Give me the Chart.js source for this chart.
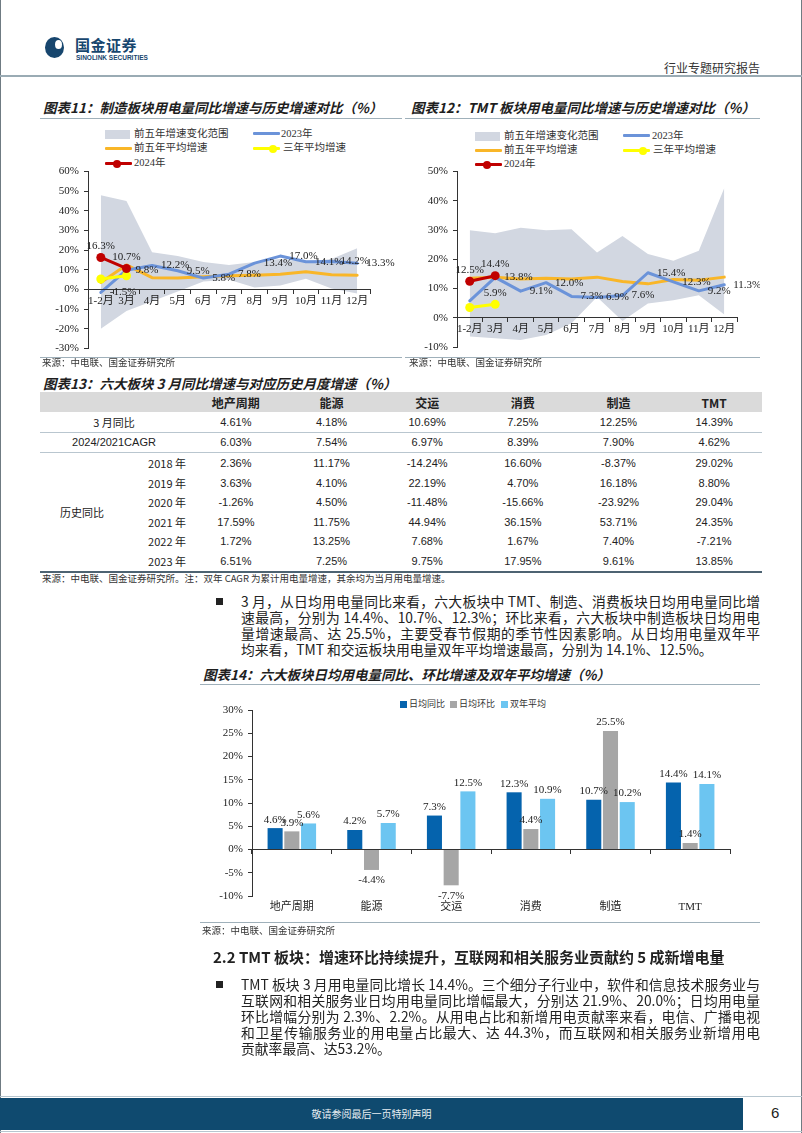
<!DOCTYPE html>
<html lang="zh-CN">
<head>
<meta charset="utf-8">
<title>行业专题研究报告</title>
<script src="https://cdn.jsdelivr.net/npm/chart.js@4.4.1/dist/chart.umd.min.js"></script>
<style>
  html, body { margin: 0; padding: 0; }
  body {
    width: 802px; height: 1133px; position: relative; overflow: hidden; background: #fff;
    font-family: "Noto Sans CJK SC", sans-serif; color: #222;
  }
  .a { position: absolute; white-space: nowrap; }
  .vline { position: absolute; top: 0; width: 1px; height: 1133px; background: #6f7b82; }
  .hrule { position: absolute; height: 1px; background: #9fb0ba; }
  .title { font-size: 13.5px; font-weight: bold; font-style: italic; line-height: 16px; color: #1e1e1e; }
  .src { font-size: 9.5px; line-height: 12px; color: #333; }
  .lg { font-family: "Liberation Serif", "Noto Sans CJK SC", serif; font-size: 10.5px; line-height: 12px; color: #333; }
  .lgline { position: absolute; height: 3px; border-radius: 1px; }
  .lgdot { position: absolute; width: 8px; height: 8px; border-radius: 50%; }
  .lgbox { position: absolute; width: 7px; height: 7px; }
  .txt { position: absolute; width: 519px; font-size: 13.8px; line-height: 16px; text-align: justify; text-align-last: justify; white-space: nowrap; }
  .txt.last { text-align-last: left; }
  .bullet { position: absolute; width: 7px; height: 7px; background: #222; }
  canvas { position: absolute; }
  table.t13 {
    position: absolute; left: 40px; top: 392px; width: 722px; border-collapse: collapse;
    table-layout: fixed; font-size: 11px; color: #222;
  }
  table.t13 td, table.t13 th { padding: 0; height: 19.6px; text-align: center; white-space: nowrap; }
  table.t13 th { background: #dadada; font-weight: bold; font-size: 12px; height: 20px; }
  table.t13 td.num { font-family: "Liberation Sans Narrow", "Liberation Sans", sans-serif; }
  table.t13 tr.sep td { border-bottom: 1px solid #b9c6cf; }
  table.t13 tr.end td { border-bottom: 2px solid #4d6372; }
</style>
</head>
<body>
<div class="vline" style="left:0"></div>
<div class="vline" style="left:801px"></div>

<!-- page header -->
<div class="a" style="left:45px;top:37px;width:19px;height:21px;border-radius:50%;background:#17466e"></div>
<div class="a" style="left:55px;top:40px;width:7px;height:9px;border-radius:50%;background:#fff"></div>
<div class="a" style="left:75px;top:36px;font-size:15px;font-weight:bold;color:#17466e;line-height:18px;letter-spacing:0.5px">国金证券</div>
<div class="a" style="left:76px;top:54px;font-size:6.5px;font-weight:bold;color:#17466e;line-height:8px;font-family:'Liberation Sans Narrow','Liberation Sans',sans-serif">SINOLINK SECURITIES</div>
<div class="a" style="left:664px;top:60px;font-size:12px;line-height:15px;color:#333">行业专题研究报告</div>
<div class="hrule" style="left:0;top:75px;width:802px;height:2px;background:#9aabb4"></div>

<!-- chart 11 / 12 titles -->
<div class="a title" style="left:43px;top:99px">图表11：制造板块用电量同比增速与历史增速对比（%）</div>
<div class="hrule" style="left:40px;top:118px;width:362px"></div>
<div class="a title" style="left:411px;top:99px">图表12：TMT 板块用电量同比增速与历史增速对比（%）</div>
<div class="hrule" style="left:405px;top:118px;width:355px"></div>

<!-- chart 11 legend -->
<div class="lgbox" style="left:105px;top:130px;width:25px;height:9px;background:#d2d7e1"></div>
<div class="a lg" style="left:134px;top:128px">前五年增速变化范围</div>
<div class="lgline" style="left:253px;top:132px;width:27px;background:#6b93d9"></div>
<div class="a lg" style="left:281px;top:128px">2023年</div>
<div class="lgline" style="left:105px;top:147px;width:27px;background:#f9b628"></div>
<div class="a lg" style="left:134px;top:142px">前五年平均增速</div>
<div class="lgline" style="left:253px;top:147px;width:27px;background:#ffff00"></div>
<div class="lgdot" style="left:269px;top:144.5px;background:#ffff00"></div>
<div class="a lg" style="left:283px;top:142px">三年平均增速</div>
<div class="lgline" style="left:105px;top:162px;width:27px;background:#c00000"></div>
<div class="lgdot" style="left:113px;top:159.5px;background:#c00000"></div>
<div class="a lg" style="left:134px;top:157px">2024年</div>

<!-- chart 12 legend -->
<div class="lgbox" style="left:475px;top:132px;width:25px;height:9px;background:#d2d7e1"></div>
<div class="a lg" style="left:504px;top:130px">前五年增速变化范围</div>
<div class="lgline" style="left:623px;top:134px;width:27px;background:#6b93d9"></div>
<div class="a lg" style="left:652px;top:130px">2023年</div>
<div class="lgline" style="left:475px;top:149px;width:27px;background:#f9b628"></div>
<div class="a lg" style="left:504px;top:144px">前五年平均增速</div>
<div class="lgline" style="left:623px;top:149px;width:27px;background:#ffff00"></div>
<div class="lgdot" style="left:639px;top:146.5px;background:#ffff00"></div>
<div class="a lg" style="left:653px;top:144px">三年平均增速</div>
<div class="lgline" style="left:475px;top:163px;width:27px;background:#c00000"></div>
<div class="lgdot" style="left:483px;top:160.5px;background:#c00000"></div>
<div class="a lg" style="left:504px;top:158px">2024年</div>

<canvas id="c11" width="360" height="200" style="left:40px;top:160px"></canvas>
<canvas id="c12" width="355" height="200" style="left:405px;top:160px"></canvas>

<div class="hrule" style="left:40px;top:357px;width:362px"></div>
<div class="hrule" style="left:405px;top:357px;width:355px"></div>
<div class="a src" style="left:42px;top:356px">来源：中电联、国金证券研究所</div>
<div class="a src" style="left:409px;top:356px">来源：中电联、国金证券研究所</div>

<!-- table 13 -->
<div class="a title" style="left:43px;top:375px">图表13：六大板块 3 月同比增速与对应历史月度增速（%）</div>
<table class="t13" id="t13"></table>
<div class="a src" style="left:42px;top:572px">来源：中电联、国金证券研究所。注：双年 CAGR 为累计用电量增速，其余均为当月用电量增速。</div>

<!-- paragraph 1 -->
<div class="bullet" style="left:216px;top:598px"></div>
<div class="txt" style="left:241px;top:593px">3 月，从日均用电量同比来看，六大板块中 TMT、制造、消费板块日均用电量同比增</div>
<div class="txt" style="left:241px;top:609px">速最高，分别为 14.4%、10.7%、12.3%；环比来看，六大板块中制造板块日均用电</div>
<div class="txt" style="left:241px;top:625px">量增速最高、达 25.5%，主要受春节假期的季节性因素影响。从日均用电量双年平</div>
<div class="txt last" style="left:241px;top:641px">均来看，TMT 和交运板块用电量双年平均增速最高，分别为 14.1%、12.5%。</div>

<!-- chart 14 -->
<div class="a title" style="left:203px;top:666px">图表14：六大板块日均用电量同比、环比增速及双年平均增速（%）</div>
<div class="hrule" style="left:200px;top:684px;width:560px"></div>
<div class="lgbox" style="left:400px;top:701px;background:#0563ad"></div>
<div class="a" style="left:409px;top:698px;font-size:9px;line-height:12px;color:#333">日均同比</div>
<div class="lgbox" style="left:450px;top:701px;background:#a6a6a6"></div>
<div class="a" style="left:459px;top:698px;font-size:9px;line-height:12px;color:#333">日均环比</div>
<div class="lgbox" style="left:501px;top:701px;background:#6cc5f1"></div>
<div class="a" style="left:510px;top:698px;font-size:9px;line-height:12px;color:#333">双年平均</div>
<canvas id="c14" width="560" height="230" style="left:200px;top:695px"></canvas>
<div class="hrule" style="left:200px;top:922px;width:560px"></div>
<div class="a src" style="left:202px;top:924px">来源：中电联、国金证券研究所</div>

<!-- section 2.2 -->
<div class="a" style="left:213px;top:948px;font-size:15px;font-weight:bold;line-height:18px">2.2 TMT 板块：增速环比持续提升，互联网和相关服务业贡献约 5 成新增电量</div>
<div class="bullet" style="left:216px;top:981px"></div>
<div class="txt" style="left:241px;top:976px">TMT 板块 3 月用电量同比增长 14.4%。三个细分子行业中，软件和信息技术服务业与</div>
<div class="txt" style="left:241px;top:992px">互联网和相关服务业日均用电量同比增幅最大，分别达 21.9%、20.0%；日均用电量</div>
<div class="txt" style="left:241px;top:1008px">环比增幅分别为 2.3%、2.2%。从用电占比和新增用电贡献率来看，电信、广播电视</div>
<div class="txt" style="left:241px;top:1024px">和卫星传输服务业的用电量占比最大、达 44.3%，而互联网和相关服务业新增用电</div>
<div class="txt last" style="left:241px;top:1040px">贡献率最高、达53.2%。</div>

<!-- footer -->
<div class="hrule" style="left:0;top:1096px;width:802px;background:#b7c6cf"></div>
<div class="a" style="left:0;top:1098px;width:743px;height:32px;background:#0f4a6f"></div>
<div class="a" style="left:0;top:1107px;width:743px;text-align:center;font-size:10px;line-height:13px;color:#e8eef2">敬请参阅最后一页特别声明</div>
<div class="a" style="left:771px;top:1104px;font-size:15px;line-height:18px;color:#222;font-family:'Liberation Sans Narrow','Liberation Sans',sans-serif">6</div>
<div class="hrule" style="left:0;top:1131px;width:802px;background:#b7c6cf"></div>

<script>
// ---- data ----
const months = ["1-2月", "3月", "4月", "5月", "6月", "7月", "8月", "9月", "10月", "11月", "12月"];

// 图表11 制造
const mfgRangeLow = [-20, -11, -6, -1, 4, 5, 1, 2, 5.5, 0.5, -2];
const mfgRangeHigh = [48, 45, 19, 17, 14, 12.5, 14, 15.5, 14, 15.5, 21];
const mfgAvg5 = [3.6, 12.5, 6, 5.8, 6.5, 7, 7.3, 7.8, 9, 7.5, 7.3];
const mfg2023 = [-1.5, 9.8, 12.2, 9.5, 5.8, 7.8, 13.4, 17.0, 14.1, 14.2, 13.3];
const mfgAvg3 = [5.3, 7.0];
const mfg2024 = [16.3, 10.7];

// 图表12 TMT
const tmtRangeLow = [-6.4, -7, -7.6, -5.9, -1.9, 7.1, -1.1, 4.9, 6, 7.7, 1.1];
const tmtRangeHigh = [29.9, 28.9, 30.8, 29.9, 30.3, 22.3, 28, 21.8, 19.5, 22.9, 44.4];
const tmtAvg5 = [13.5, 13.9, 13.3, 13.5, 13.3, 13.9, 12.4, 11.6, 13.1, 12.8, 13.9];
const tmt2023 = [5.8, 13.8, 9.1, 12.0, 7.3, 6.9, 7.6, 15.4, 12.3, 9.2, 11.3];
const tmtAvg3 = [3.5, 4.6];
const tmtAvg3Labels = [null, "5.9%"];
const tmt2024 = [12.5, 14.4];

// 图表13 table
const tableHeads = ["地产周期", "能源", "交运", "消费", "制造", "TMT"];
const rowMarch = ["4.61%", "4.18%", "10.69%", "7.25%", "12.25%", "14.39%"];
const rowCagr = ["6.03%", "7.54%", "6.97%", "8.39%", "7.90%", "4.62%"];
const histYears = ["2018 年", "2019 年", "2020 年", "2021 年", "2022 年", "2023 年"];
const histRows = [
  ["2.36%", "11.17%", "-14.24%", "16.60%", "-8.37%", "29.02%"],
  ["3.63%", "4.10%", "22.19%", "4.70%", "16.18%", "8.80%"],
  ["-1.26%", "4.50%", "-11.48%", "-15.66%", "-23.92%", "29.04%"],
  ["17.59%", "11.75%", "44.94%", "36.15%", "53.71%", "24.35%"],
  ["1.72%", "13.25%", "7.68%", "1.67%", "7.40%", "-7.21%"],
  ["6.51%", "7.25%", "9.75%", "17.95%", "9.61%", "13.85%"]
];

// 图表14
const sectors = ["地产周期", "能源", "交运", "消费", "制造", "TMT"];
const dailyYoY = [4.6, 4.2, 7.3, 12.3, 10.7, 14.4];
const dailyMoM = [3.9, -4.4, -7.7, 4.4, 25.5, 1.4];
const twoYearAvg = [5.6, 5.7, 12.5, 10.9, 10.2, 14.1];

// ---- colours ----
const BAND = "#d2d7e1";
const BLUE = "#6b93d9";
const ORANGE = "#f9b628";
const YELLOW = "#ffff00";
const RED = "#c00000";
const AXIS = "#333";
const SERIF = "'Liberation Serif', 'Noto Sans CJK SC', serif";

// build table 13
(function buildTable() {
  const t = document.getElementById("t13");
  let html = '<colgroup><col style="width:72px"><col style="width:76px">';
  tableHeads.forEach(() => { html += '<col style="width:95.67px">'; });
  html += "</colgroup>";
  html += '<tr><th colspan="2"></th>' + tableHeads.map(h => `<th>${h}</th>`).join("") + "</tr>";
  html += '<tr class="sep"><td colspan="2">3 月同比</td>' + rowMarch.map(v => `<td class="num">${v}</td>`).join("") + "</tr>";
  html += '<tr class="sep"><td colspan="2" class="num">2024/2021CAGR</td>' + rowCagr.map(v => `<td class="num">${v}</td>`).join("") + "</tr>";
  histRows.forEach((row, i) => {
    const cls = i === histRows.length - 1 ? ' class="end"' : "";
    let first = "";
    if (i === 0) first = `<td rowspan="${histRows.length}" style="border-bottom:2px solid #4d6372;padding-left:12px">历史同比</td>`;
    html += `<tr${cls}>${first}<td style="text-align:right;padding-right:2px">${histYears[i]}</td>` +
      row.map(v => `<td class="num">${v}</td>`).join("") + "</tr>";
  });
  t.innerHTML = html;
})();

Chart.defaults.font.family = SERIF;
Chart.defaults.font.size = 11;
Chart.defaults.color = "#222";

// value labels drawn next to points / bars
const valueLabels = {
  id: "valueLabels",
  afterDraw(chart) {
    const ctx = chart.ctx;
    ctx.save();
    ctx.font = "11px " + SERIF;
    ctx.fillStyle = "#222";
    chart.data.datasets.forEach((ds, i) => {
      if (!ds.labelPos) return;
      const meta = chart.getDatasetMeta(i);
      meta.data.forEach((el, j) => {
        if (ds.labelSkip && ds.labelSkip.includes(j)) return;
        const v = ds.data[j];
        const txt = (ds.labelText && ds.labelText[j]) || v.toFixed(1) + "%";
        if (ds.labelPos === "right") {
          ctx.textAlign = "left";
          ctx.textBaseline = "middle";
          ctx.fillText(txt, el.x + 9, el.y);
        } else if (ds.labelPos === "top") {
          ctx.textAlign = "center";
          ctx.textBaseline = "bottom";
          ctx.fillText(txt, el.x, el.y - 6);
        } else if (ds.labelPos === "bar") {
          ctx.textAlign = "center";
          if (v >= 0) {
            ctx.textBaseline = "bottom";
            ctx.fillText(txt, el.x, el.y - 3);
          } else {
            ctx.textBaseline = "top";
            ctx.fillText(txt, el.x, el.y + 5);
          }
        }
      });
    });
    ctx.restore();
  }
};

function lineDatasets(low, high, avg5, y2023, avg3, y2024, extra) {
  return [
    Object.assign({ label: "2024年", data: y2024, borderColor: RED, backgroundColor: RED, borderWidth: 3,
      pointRadius: 4.5, pointBorderWidth: 0, order: 1, labelPos: "top" }, extra.red || {}),
    Object.assign({ label: "三年平均增速", data: avg3, borderColor: YELLOW, backgroundColor: YELLOW, borderWidth: 3,
      pointRadius: 4.5, pointBorderWidth: 0, order: 2 }, extra.yellow || {}),
    Object.assign({ label: "2023年", data: y2023, borderColor: BLUE, borderWidth: 3, pointRadius: 0,
      order: 3, labelPos: "right" }, extra.blue || {}),
    { label: "前五年平均增速", data: avg5, borderColor: ORANGE, borderWidth: 3, pointRadius: 0, order: 4 },
    { label: "前五年增速变化范围", data: high, borderColor: "rgba(0,0,0,0)", borderWidth: 0, pointRadius: 0,
      backgroundColor: BAND, fill: "+1", order: 5 },
    { label: "下限", data: low, borderColor: "rgba(0,0,0,0)", borderWidth: 0, pointRadius: 0, fill: false, order: 6 }
  ];
}

function lineOptions(yMin, yMax, yWidth, padding) {
  return {
    responsive: false,
    animation: false,
    layout: { padding: padding },
    elements: { line: { tension: 0, borderJoinStyle: "round", borderCapStyle: "round" } },
    plugins: { legend: { display: false }, tooltip: { enabled: false } },
    scales: {
      x: {
        type: "category",
        position: { y: 0 },
        offset: true,
        grid: { display: true, drawOnChartArea: false, offset: true, tickLength: 4, color: AXIS, z: 1 },
        border: { color: AXIS, z: 1 },
        ticks: { padding: 1, maxRotation: 0, autoSkip: false, color: "#222", z: 1 },
        afterFit: (s) => { s.height = 0; }
      },
      y: {
        min: yMin,
        max: yMax,
        ticks: { stepSize: 10, padding: 5, color: "#222", callback: (v) => v + "%" },
        grid: { drawOnChartArea: false, tickLength: 4, color: AXIS },
        border: { color: AXIS },
        afterFit: (s) => { s.width = yWidth; }
      }
    }
  };
}

new Chart(document.getElementById("c11"), {
  type: "line",
  data: { labels: months, datasets: lineDatasets(mfgRangeLow, mfgRangeHigh, mfgAvg5, mfg2023, mfgAvg3, mfg2024, {}) },
  options: lineOptions(-30, 60, 48, { top: 8, bottom: 10, left: 0, right: 30 }),
  plugins: [valueLabels]
});

new Chart(document.getElementById("c12"), {
  type: "line",
  data: {
    labels: months,
    datasets: lineDatasets(tmtRangeLow, tmtRangeHigh, tmtAvg5, tmt2023, tmtAvg3, tmt2024, {
      blue: { labelSkip: [0] },
      yellow: { labelPos: "top", labelSkip: [0], labelText: tmtAvg3Labels }
    })
  },
  options: lineOptions(-10, 50, 52, { top: 10, bottom: 13, left: 0, right: 23 }),
  plugins: [valueLabels]
});

new Chart(document.getElementById("c14"), {
  type: "bar",
  data: {
    labels: sectors,
    datasets: [
      { label: "日均同比", data: dailyYoY, backgroundColor: "#0563ad", labelPos: "bar" },
      { label: "日均环比", data: dailyMoM, backgroundColor: "#a6a6a6", labelPos: "bar" },
      { label: "双年平均", data: twoYearAvg, backgroundColor: "#6cc5f1", labelPos: "bar" }
    ]
  },
  options: {
    responsive: false,
    animation: false,
    layout: { padding: { top: 15, bottom: 9, left: 0, right: 30 } },
    datasets: { bar: { categoryPercentage: 0.63, barPercentage: 0.9 } },
    plugins: { legend: { display: false }, tooltip: { enabled: false } },
    scales: {
      x: {
        position: "bottom",
        grid: { display: false, drawTicks: false },
        border: { display: false },
        ticks: { padding: 5, color: "#222" },
        afterFit: (s) => { s.height = 20; }
      },
      x0: {
        type: "category",
        position: { y: 0 },
        offset: true,
        grid: { display: true, drawOnChartArea: false, offset: true, tickLength: 4, color: AXIS, z: 1 },
        border: { color: AXIS, z: 1 },
        ticks: { display: false },
        afterFit: (s) => { s.height = 0; }
      },
      y: {
        min: -10,
        max: 30,
        ticks: { stepSize: 5, padding: 5, color: "#222", callback: (v) => v + "%" },
        grid: { drawOnChartArea: false, tickLength: 4, color: AXIS },
        border: { color: AXIS },
        afterFit: (s) => { s.width = 52; }
      }
    }
  },
  plugins: [valueLabels]
});
</script>
</body>
</html>
